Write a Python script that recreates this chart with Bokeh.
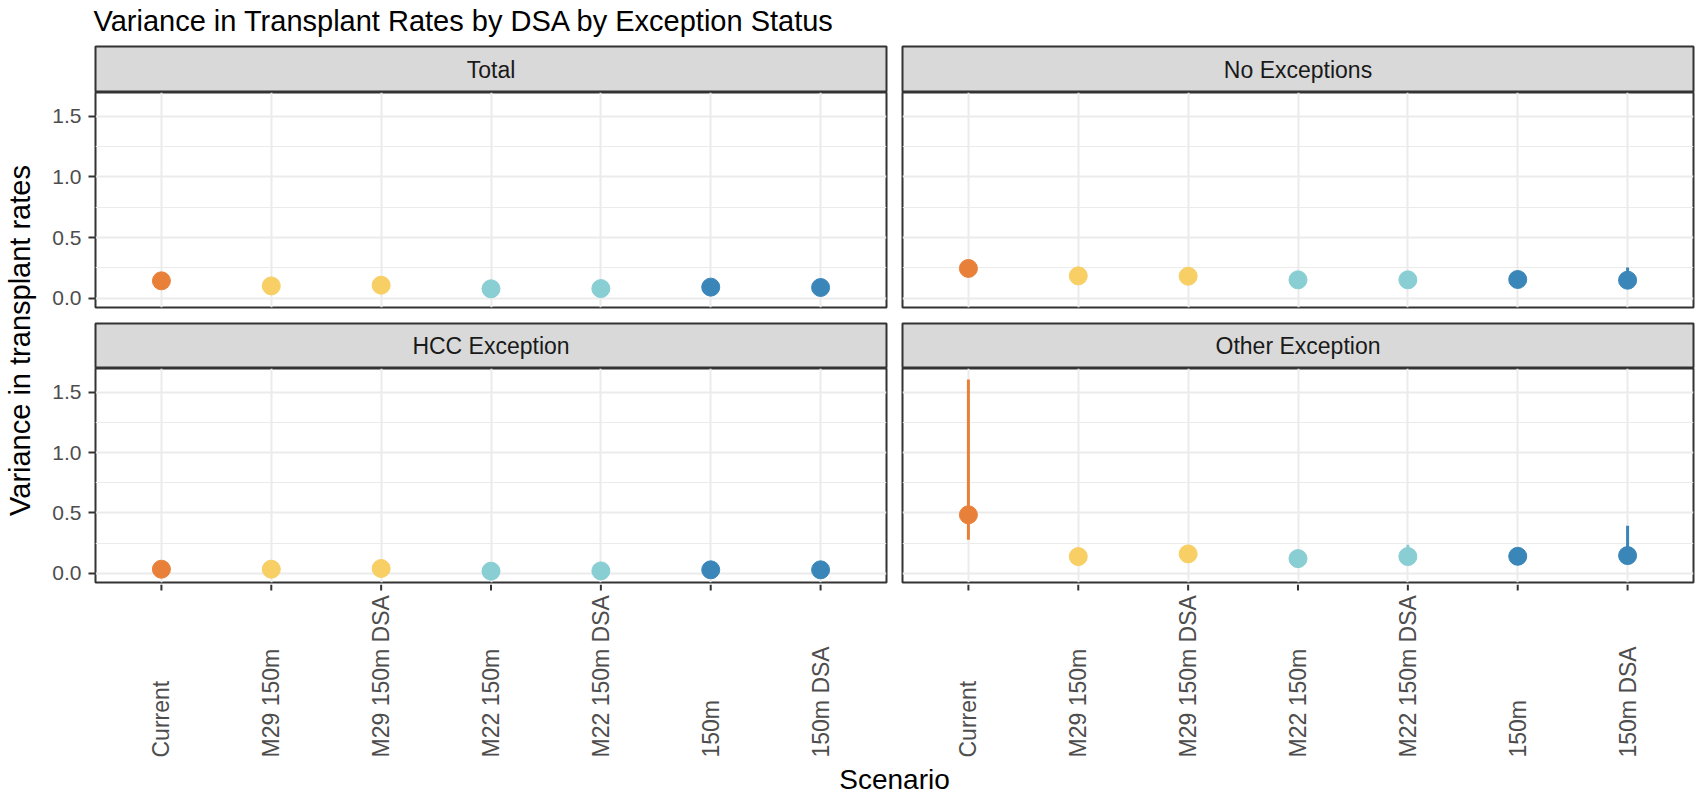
from math import pi
from bokeh.plotting import figure
from bokeh.layouts import row, column
from bokeh.models import (Range1d, FactorRange, FixedTicker, LinearAxis,
                          NumeralTickFormatter, Label, ColumnDataSource)
from bokeh.core.properties import value
from bokeh.embed import file_html
from bokeh.resources import INLINE

# ---------------- data ----------------
categories = ["Current", "M29 150m", "M29 150m DSA", "M22 150m", "M22 150m DSA", "150m", "150m DSA"]
colors = ["#E8803A", "#F8CF64", "#F8CF64", "#88CED3", "#88CED3", "#3A86B9", "#3A86B9"]
panel_names = ["Total", "No Exceptions", "HCC Exception", "Other Exception"]

total_est = [0.143, 0.101, 0.107, 0.077, 0.079, 0.091, 0.088]
total_lo = [0.120, 0.080, 0.085, 0.060, 0.060, 0.070, 0.065]
total_hi = [0.170, 0.125, 0.130, 0.095, 0.100, 0.110, 0.110]

noexc_est = [0.245, 0.184, 0.181, 0.151, 0.151, 0.154, 0.148]
noexc_lo = [0.220, 0.160, 0.160, 0.130, 0.130, 0.130, 0.120]
noexc_hi = [0.270, 0.210, 0.205, 0.175, 0.175, 0.180, 0.253]

hcc_est = [0.033, 0.033, 0.039, 0.017, 0.019, 0.028, 0.028]
hcc_lo = [0.020, 0.020, 0.025, 0.008, 0.010, 0.015, 0.015]
hcc_hi = [0.050, 0.050, 0.055, 0.030, 0.030, 0.040, 0.040]

other_est = [0.484, 0.138, 0.160, 0.121, 0.138, 0.140, 0.146]
other_lo = [0.278, 0.110, 0.130, 0.100, 0.110, 0.115, 0.100]
other_hi = [1.605, 0.170, 0.190, 0.150, 0.236, 0.170, 0.393]

y_ticks = [0.0, 0.5, 1.0, 1.5]
y_minor = [0.25, 0.75, 1.25]

title_text = "Variance in Transplant Rates by DSA by Exception Status"
x_title = "Scenario"
y_title = "Variance in transplant rates"

# ---------------- styling / geometry ----------------
FONT = "Liberation Sans"
TOTAL_W = 1698
YLAB_W = 38
LEFT_W, RIGHT_W = 856, 804
LEFT_MB = (57, 8)
RIGHT_MB = (8, 5)
TITLE_H = 45
STRIP_TOP_H = 47
PANEL_TOP_H = 230
STRIP_BOT_H = 46
PANEL_BOT_H = 216
XLAB_H = 175
XTITLE_H = 38
MID_H = STRIP_TOP_H + PANEL_TOP_H + STRIP_BOT_H + PANEL_BOT_H + XLAB_H

GRID = "#ebebeb"
DARK = "#333333"

xr = FactorRange(factors=categories, range_padding=0.1, range_padding_units="absolute")
yr = Range1d(-0.077, 1.696)


def base(width, height, xrange, yrange, mb, **kw):
    p = figure(width=width, height=height, x_range=xrange, y_range=yrange,
               x_axis_location=None, y_axis_location=None,
               toolbar_location=None, output_backend="svg",
               min_border_left=mb[0], min_border_right=mb[1],
               min_border_top=kw.pop("mbt", 0), min_border_bottom=kw.pop("mbb", 0),
               border_fill_color="white", **kw)
    return p


def make_strip(name, left, height):
    w, mb = (LEFT_W, LEFT_MB) if left else (RIGHT_W, RIGHT_MB)
    s = base(w, height, Range1d(0, 1), Range1d(0, 1), mb, mbt=1,
             background_fill_color="#d9d9d9", outline_line_color=DARK, outline_line_width=2)
    s.grid.visible = False
    s.add_layout(Label(x=0.5, y=0.5, text=name, text_align="center", text_baseline="middle",
                       text_font=FONT, text_font_size="23px", text_color="#1a1a1a"))
    return s


def make_panel(est, lo, hi, left, height, mbb):
    w, mb = (LEFT_W, LEFT_MB) if left else (RIGHT_W, RIGHT_MB)
    p = base(w, height, xr, yr, mb, mbb=mbb,
             background_fill_color="white", outline_line_color=DARK, outline_line_width=2)
    p.xgrid.grid_line_color = GRID
    p.xgrid.grid_line_width = 2
    p.ygrid.ticker = FixedTicker(ticks=y_ticks, minor_ticks=y_minor)
    p.ygrid.grid_line_color = GRID
    p.ygrid.grid_line_width = 2
    p.ygrid.minor_grid_line_color = GRID
    p.ygrid.minor_grid_line_width = 1
    if left:
        ax = LinearAxis(ticker=FixedTicker(ticks=y_ticks), formatter=NumeralTickFormatter(format="0.0"),
                        axis_line_color=None, major_tick_line_color=DARK, major_tick_line_width=2,
                        major_tick_out=7, major_tick_in=0, minor_tick_line_color=None,
                        major_label_text_font=FONT, major_label_text_font_size="21px",
                        major_label_text_color="#4d4d4d", major_label_standoff=7)
        p.add_layout(ax, "left")
    src = ColumnDataSource(dict(cat=categories, est=est, lo=lo, hi=hi, col=colors))
    p.segment(x0="cat", y0="lo", x1="cat", y1="hi", source=src, line_color="col", line_width=3)
    p.scatter(x="cat", y="est", source=src, size=18, fill_color="col", line_color="col", line_width=1)
    return p


def make_xlab(left):
    """Tick marks and left-justified vertical tick labels under a bottom panel."""
    w, mb = (LEFT_W, LEFT_MB) if left else (RIGHT_W, RIGHT_MB)
    q = base(w, XLAB_H, xr, Range1d(0, XLAB_H), mb, outline_line_color=None,
             background_fill_color="white")
    q.grid.visible = False
    n = len(categories)
    src = ColumnDataSource(dict(cat=categories, y=[2] * n, txt=categories,
                                t0=[XLAB_H] * n, t1=[XLAB_H - 6] * n))
    q.segment(x0="cat", y0="t0", x1="cat", y1="t1", source=src, line_color=DARK, line_width=2)
    q.text(x="cat", y="y", text="txt", source=src, angle=pi / 2, text_align="left",
           text_baseline="middle", text_font=value(FONT), text_font_size=value("23px"),
           text_color="#4d4d4d")
    return q


def text_fig(width, height, **label_kw):
    f = base(width, height, Range1d(0, width), Range1d(0, height), (0, 0),
             outline_line_color=None, background_fill_color="white")
    f.grid.visible = False
    f.add_layout(Label(text_font=FONT, text_color="black", **label_kw))
    return f


title_fig = text_fig(TOTAL_W, TITLE_H, x=93, y=25, text=title_text, text_align="left",
                     text_baseline="alphabetic", text_font_size="29px")
ylab_fig = text_fig(YLAB_W, MID_H, x=19, y=MID_H - (340 - TITLE_H), text=y_title, angle=pi / 2,
                    text_align="center", text_baseline="middle", text_font_size="29px")
xtitle_fig = text_fig(TOTAL_W, XTITLE_H, x=894, y=18, text=x_title, text_align="center",
                      text_baseline="alphabetic", text_font_size="28px")

grid_col = column(
    row(make_strip(panel_names[0], True, STRIP_TOP_H), make_strip(panel_names[1], False, STRIP_TOP_H)),
    row(make_panel(total_est, total_lo, total_hi, True, PANEL_TOP_H, 15),
        make_panel(noexc_est, noexc_lo, noexc_hi, False, PANEL_TOP_H, 15)),
    row(make_strip(panel_names[2], True, STRIP_BOT_H), make_strip(panel_names[3], False, STRIP_BOT_H)),
    row(make_panel(hcc_est, hcc_lo, hcc_hi, True, PANEL_BOT_H, 2),
        make_panel(other_est, other_lo, other_hi, False, PANEL_BOT_H, 2)),
    row(make_xlab(True), make_xlab(False)),
)

layout = column(title_fig, row(ylab_fig, grid_col), xtitle_fig)

open("out.html", "w").write(file_html(layout, INLINE))
